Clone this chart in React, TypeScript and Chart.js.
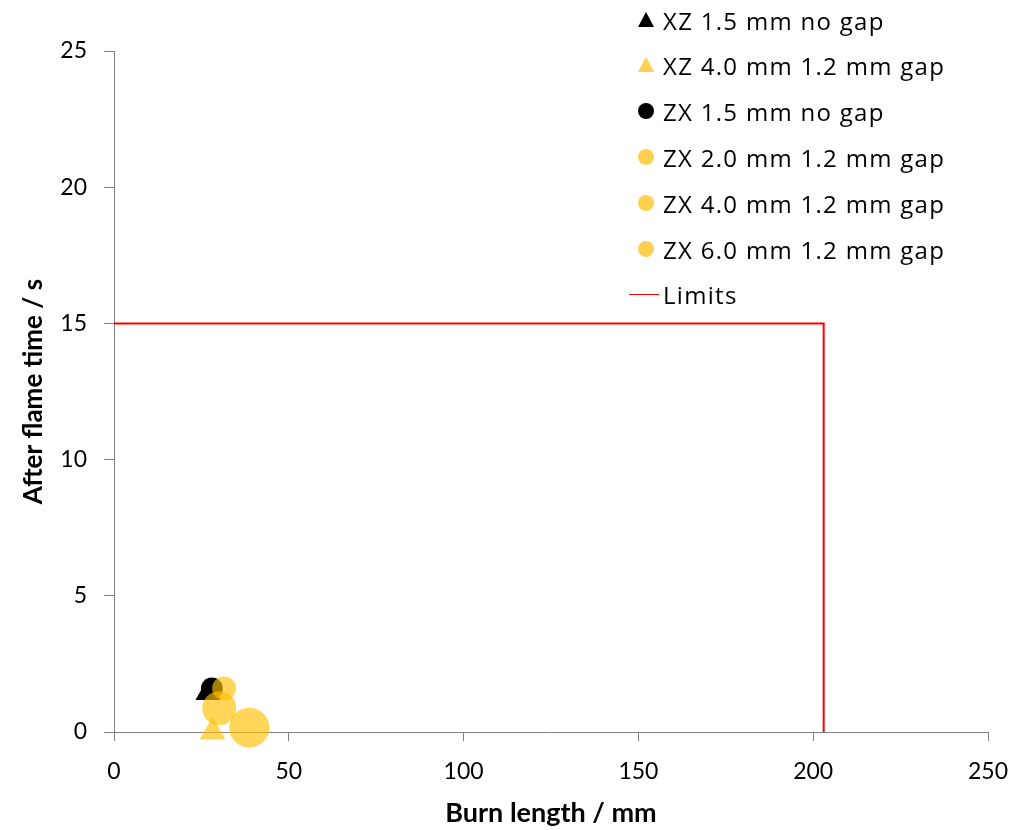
import React, { useEffect, useRef } from "react";
import { Chart, registerables } from "chart.js";

Chart.register(...registerables);

const seriesNames = [
  "XZ 1.5 mm no gap",
  "XZ 4.0 mm 1.2 mm gap",
  "ZX 1.5 mm no gap",
  "ZX 2.0 mm 1.2 mm gap",
  "ZX 4.0 mm 1.2 mm gap",
  "ZX 6.0 mm 1.2 mm gap",
];
const seriesX = [27, 28.2, 28, 31.5, 30.1, 38.7];
const seriesY = [1.45, 0, 1.6, 1.6, 0.87, 0.16];
const seriesShape = ["triangle", "triangle", "circle", "circle", "circle", "circle"];
const seriesColor = [
  "rgba(0,0,0,1)",
  "rgba(255,192,0,0.65)",
  "rgba(0,0,0,1)",
  "rgba(255,192,0,0.65)",
  "rgba(255,192,0,0.65)",
  "rgba(255,192,0,0.65)",
];
const legendColor = ["#000000", "#ffd050", "#000000", "#ffd050", "#ffd050", "#ffd050"];
const seriesRadius = [15, 15, 11, 12, 17, 20];

const limitsX = [0, 203, 203];
const limitsY = [15, 15, 0];

const xTicks = [0, 50, 100, 150, 200, 250];
const yTicks = [0, 5, 10, 15, 20, 25];

const FONT = "Lato";
const LEGEND_FONT = "'Open Sans'";

export default function App() {
  const ref = useRef<HTMLCanvasElement | null>(null);

  useEffect(() => {
    const canvas = ref.current;
    if (!canvas) return;
    const datasets: any[] = seriesNames.map((name, i) => ({
      label: name,
      data: [{ x: seriesX[i], y: seriesY[i] }],
      pointStyle: seriesShape[i],
      pointRadius: seriesRadius[i],
      pointHoverRadius: seriesRadius[i],
      backgroundColor: seriesColor[i],
      borderColor: "rgba(0,0,0,0)",
      borderWidth: 0,
      clip: false,
      order: -i,
    }));
    datasets.push({
      label: "Limits",
      data: limitsX.map((x, i) => ({ x, y: limitsY[i] })),
      showLine: true,
      borderColor: "#ff0000",
      borderWidth: 2,
      pointRadius: 0,
      fill: false,
      order: 10,
    });
    const chart = new Chart(canvas, {
      type: "scatter",
      data: { datasets },
      options: {
        animation: false,
        responsive: false,
        maintainAspectRatio: false,
        layout: { padding: { top: 51, right: 41, left: 0, bottom: 0 } },
        plugins: { legend: { display: false }, tooltip: { enabled: false } },
        scales: {
          x: {
            type: "linear",
            min: 0,
            max: 250,
            afterBuildTicks: (s: any) => {
              s.ticks = xTicks.map((v) => ({ value: v }));
            },
            afterFit: (s: any) => {
              s.height = 98;
            },
            border: { color: "#808080", width: 1 },
            grid: {
              display: true,
              drawOnChartArea: false,
              drawTicks: true,
              tickLength: 9,
              tickColor: "#808080",
              tickWidth: 1,
              color: "#808080",
            },
            ticks: {
              color: "#000",
              font: { family: FONT, size: 23 },
              padding: 17,
              maxRotation: 0,
            },
            title: {
              display: true,
              text: "Burn length / mm",
              color: "#000",
              font: { family: FONT, size: 27, weight: "bold" },
              padding: { top: 0, bottom: 1 },
            },
          },
          y: {
            type: "linear",
            min: 0,
            max: 25,
            afterBuildTicks: (s: any) => {
              s.ticks = yTicks.map((v) => ({ value: v }));
            },
            afterFit: (s: any) => {
              s.width = 114;
            },
            border: { color: "#808080", width: 1 },
            grid: {
              display: true,
              drawOnChartArea: false,
              drawTicks: true,
              tickLength: 10,
              tickColor: "#808080",
              tickWidth: 1,
              color: "#808080",
            },
            ticks: {
              color: "#000",
              font: { family: FONT, size: 23 },
              padding: 17,
            },
            title: {
              display: true,
              text: "After flame time / s",
              color: "#000",
              font: { family: FONT, size: 26, weight: "bold" },
              padding: { top: 18, bottom: 0 },
            },
          },
        },
      },
    });
    return () => chart.destroy();
  }, []);

  const legendTop = [20, 65, 111, 157, 203, 249];
  const textStyle: React.CSSProperties = {
    fontFamily: LEGEND_FONT,
    fontSize: 24,
    letterSpacing: "1.3px",
    color: "#000",
    whiteSpace: "nowrap",
  };
  return (
    <div style={{ position: "absolute", left: 0, top: 0, width: 1029, height: 830, background: "#fff" }}>
      <canvas ref={ref} width={1029} height={830} style={{ display: "block" }} />
      {seriesNames.map((name, i) => (
        <div
          key={name}
          style={{
            position: "absolute",
            left: 636,
            top: legendTop[i] - 15,
            height: 30,
            display: "flex",
            alignItems: "center",
            ...textStyle,
          }}
        >
          <svg width={20} height={20} style={{ marginRight: 7 }}>
            {seriesShape[i] === "triangle" ? (
              <polygon points="10,2 18,17 2,17" fill={legendColor[i]} />
            ) : (
              <circle cx={10} cy={10} r={8} fill={legendColor[i]} />
            )}
          </svg>
          <span>{name}</span>
        </div>
      ))}
      <div
        style={{
          position: "absolute",
          left: 629,
          top: 294 - 15,
          height: 30,
          display: "flex",
          alignItems: "center",
          ...textStyle,
        }}
      >
        <div style={{ width: 30, height: 1, background: "#ff0000", marginRight: 4 }} />
        <span>Limits</span>
      </div>
    </div>
  );
}
